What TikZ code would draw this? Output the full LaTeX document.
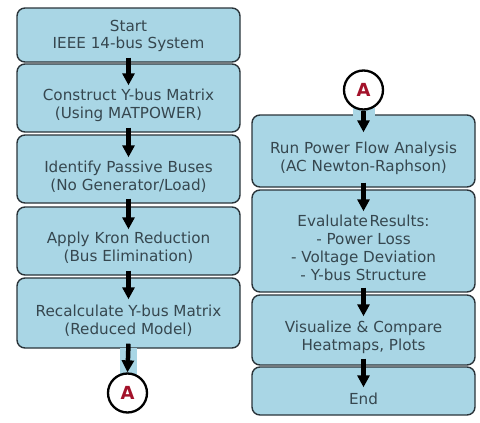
\documentclass[tikz,border=0pt]{standalone}
\usepackage{fontspec}
\setmainfont{DejaVu Sans}
\usetikzlibrary{arrows.meta}
\definecolor{boxfill}{HTML}{A9D6E5}
\definecolor{boxline}{HTML}{2A343A}
\definecolor{txt}{HTML}{36474F}
\definecolor{ared}{HTML}{A3122A}
\tikzset{
  box/.style={draw=boxline, fill=boxfill, line width=1.4pt, rounded corners=8pt, minimum width=223pt, inner sep=0pt},
  lbl/.style={text=txt, font=\fontsize{15.2}{17.8}\selectfont, align=center, inner sep=0pt},
  arr/.style={line width=4.5pt, -{Triangle[width=12pt,length=12pt]}, black},
  conn/.style={circle, draw=black, fill=white, line width=2.3pt, minimum size=39pt, inner sep=0pt, text=ared, font=\fontsize{18}{18}\selectfont\bfseries},
}
\begin{document}
\begin{tikzpicture}[x=1pt,y=-1pt]
\useasboundingbox (0,0) rectangle (480,423);
% left column boxes
\node[box, minimum height=54pt] (b1) at (128.5,35) {};
\node[box, minimum height=68pt] (b2) at (128.5,98) {};
\node[box, minimum height=68pt] (b3) at (128.5,169) {};
\node[box, minimum height=68pt] (b4) at (128.5,241) {};
\node[box, minimum height=70pt] (b5) at (128.5,313) {};
% right column boxes
\node[box, minimum height=72pt] (r1) at (363.5,151) {};
\node[box, minimum height=102pt] (r2) at (363.5,241) {};
\node[box, minimum height=70pt] (r3) at (363.5,330) {};
\node[box, minimum height=48pt] (r4) at (363.5,391) {};
% light blue strips behind connector arrows
\fill[boxfill] (120,348) rectangle (137,374);
\fill[boxfill] (353,108) rectangle (375,116);
% texts
\node[lbl] (t1) at (128.5,36) {Start\\IEEE 14-bus System};
\node[lbl] (t2) at (128.5,105) {Construct Y-bus Matrix\\(Using MATPOWER)};
\node[lbl] (t3) at (128.5,177) {Identify Passive Buses\\(No Generator/Load)};
\node[lbl] (t4) at (128.5,248) {Apply Kron Reduction\\(Bus Elimination)};
\node[lbl] (t5) at (128.5,321) {Recalculate Y-bus Matrix\\(Reduced Model)};
\node[lbl] (s1) at (363.5,158) {Run Power Flow Analysis\\(AC Newton-Raphson)};
\node[lbl] (s2) at (363.5,248) {Evalulate\hspace{1.5pt}Results:\\- Power Loss\\- Voltage Deviation\\- Y-bus Structure};
\node[lbl] (s3) at (363.5,337) {Visualize \& Compare\\Heatmaps, Plots};
\node[lbl] (s4) at (363.5,399) {End};
% connectors
\node[conn] (ca) at (127.5,393) {A};
\node[conn] (cb) at (363.5,90) {A};
% arrows
\draw[arr] ([yshift=5pt]b1.south) -- ([yshift=-22pt]b2.north);
\draw[arr] ([yshift=5pt]b2.south) -- ([yshift=-23pt]b3.north);
\draw[arr] ([yshift=5pt]b3.south) -- ([yshift=-23pt]b4.north);
\draw[arr] ([yshift=5pt]b4.south) -- ([yshift=-22pt]b5.north);
\draw[arr] ([yshift=5pt]b5.south) -- (ca.north);
\draw[arr] (cb.south) -- ([yshift=-18pt]r1.north);
\draw[arr] ([yshift=5pt]r1.south) -- ([yshift=-22pt]r2.north);
\draw[arr] ([yshift=5pt]r2.south) -- ([yshift=-22pt]r3.north);
\draw[arr] ([yshift=7pt]r3.south) -- ([yshift=-21pt]r4.north);
\end{tikzpicture}
\end{document}
